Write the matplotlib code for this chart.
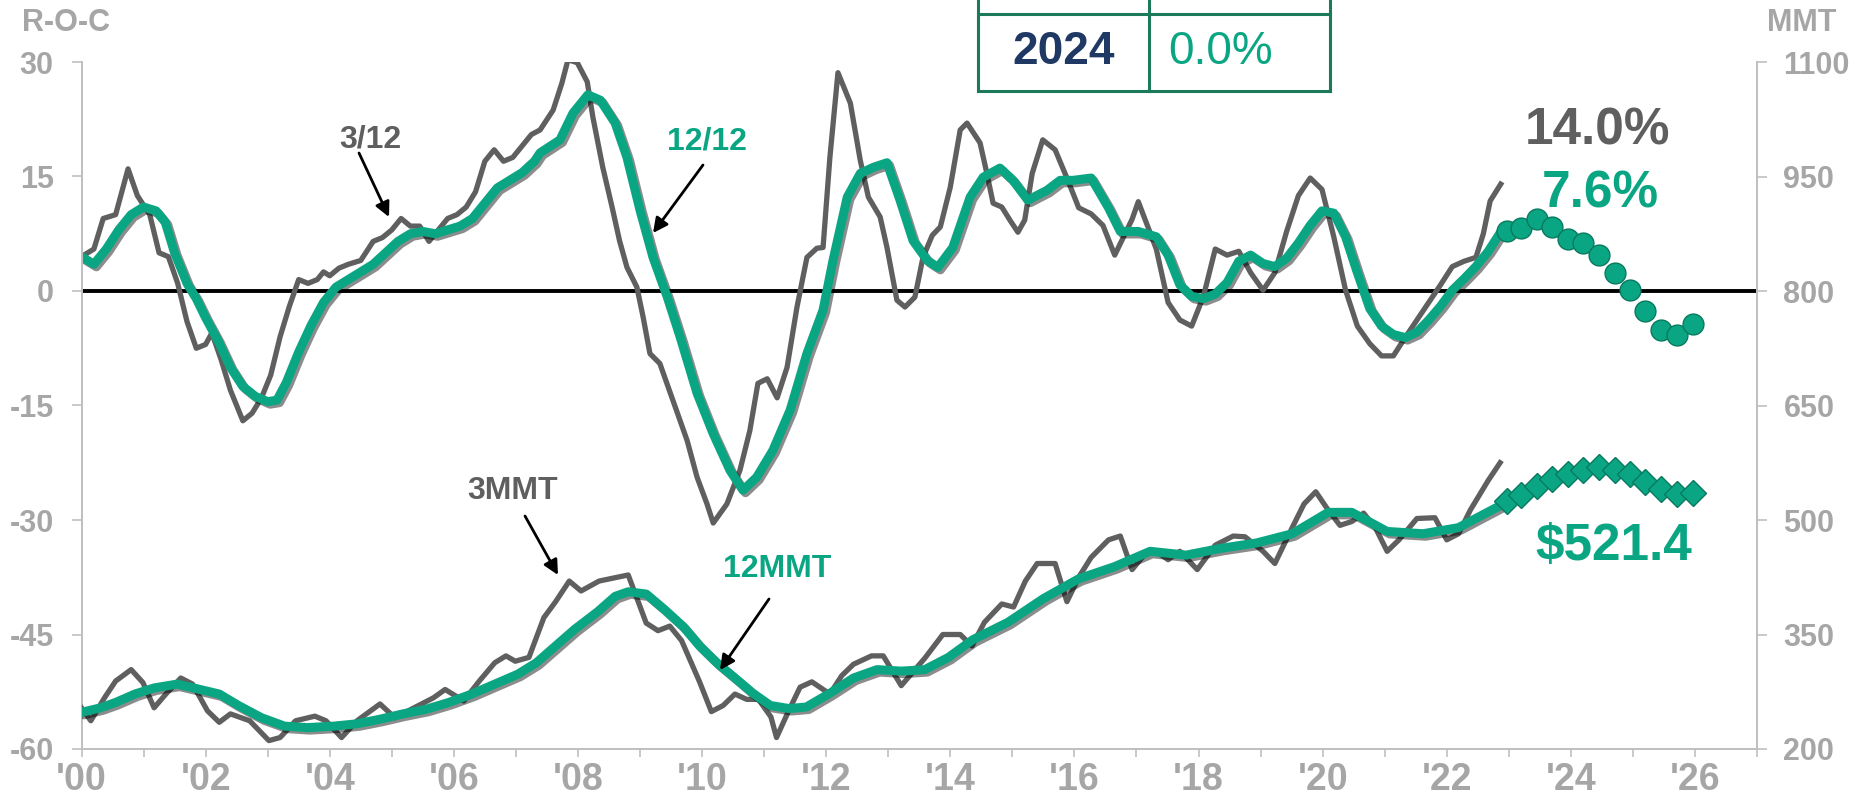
import matplotlib
matplotlib.use("Agg")
import matplotlib.pyplot as plt
import matplotlib.patheffects as pe
from matplotlib.lines import Line2D
from matplotlib.patches import Rectangle, FancyArrowPatch

plt.rcParams['font.family'] = ['Liberation Sans', 'DejaVu Sans']
plt.rcParams['axes.unicode_minus'] = False

# ---- data (years since 2000) ----
roc3_t = [0.0, 0.2, 0.35, 0.55, 0.75, 0.9, 1.1, 1.25, 1.4, 1.55, 1.7, 1.85, 2.0, 2.1, 2.25, 2.4, 2.6,
          2.75, 2.9, 3.05, 3.2, 3.35, 3.5, 3.65, 3.8, 3.9, 4.0, 4.15, 4.3, 4.5, 4.7, 4.85, 5.0, 5.15,
          5.3, 5.45, 5.6, 5.75, 5.9, 6.05, 6.2, 6.35, 6.5, 6.65, 6.8, 6.95, 7.1, 7.25,
          7.39, 7.6, 7.74, 7.84, 7.99, 8.15, 8.24, 8.4, 8.55, 8.67, 8.79, 8.95, 9.05, 9.16, 9.32,
          9.53, 9.76, 9.92, 10.08, 10.18, 10.4, 10.61, 10.77, 10.9, 11.05, 11.21, 11.37, 11.53,
          11.69, 11.85, 11.95, 12.06, 12.19, 12.39, 12.55, 12.68, 12.87, 12.98, 13.14, 13.27,
          13.43, 13.56, 13.71, 13.84, 14.0, 14.16, 14.27, 14.48, 14.59, 14.69, 14.83, 14.96,
          15.09, 15.2, 15.32, 15.49, 15.69, 15.88, 16.07, 16.27, 16.46, 16.65, 16.93, 17.03,
          17.32, 17.51, 17.7, 17.89, 18.08, 18.27, 18.46, 18.65, 18.84, 19.04, 19.23, 19.42,
          19.61, 19.8, 19.99, 20.18, 20.37, 20.56, 20.76, 20.95, 21.14, 21.33, 21.52, 21.71,
          21.9, 22.09, 22.28, 22.47, 22.59, 22.7, 22.87]
roc3_v = [4.5, 5.5, 9.5, 10, 16, 12.5, 10, 5, 4.5, 1, -4, -7.5, -7, -5.5, -9, -13, -17,
          -16, -14, -11, -6, -2, 1.5, 1, 1.5, 2.5, 2, 3, 3.5, 4, 6.5, 7, 8, 9.5,
          8.5, 8.5, 6.5, 8, 9.5, 10, 11, 13, 17, 18.5, 17, 17.5, 19, 20.5,
          21.1, 23.7, 27.2, 30.3, 29.9, 27.4, 22.8, 16.2, 11.0, 6.6, 3.1, 0.5, -3.4, -8.2, -9.5,
          -14.3, -19.6, -24.4, -27.9, -30.4, -27.9, -23.5, -18.3, -12.1, -11.5, -14.0, -10.0, -2.1,
          4.4, 5.6, 5.7, 17.5, 28.6, 24.6, 17.1, 12.3, 9.7, 5.7, -1.2, -2.1,
          -0.8, 4.4, 7.3, 8.4, 13.6, 21.1, 22.0, 19.4, 15.4, 11.5, 11.0, 9.3,
          7.7, 9.3, 15.4, 19.8, 18.5, 14.8, 10.9, 10.1, 8.6, 4.7, 9.4, 11.7,
          5.5, -1.5, -3.8, -4.6, -0.7, 5.5, 4.7, 5.2, 2.4, 0.1, 2.4, 7.8,
          12.5, 14.8, 13.3, 7.1, 0.1, -4.6, -6.9, -8.5, -8.5, -6.1, -3.8, -1.5,
          0.8, 3.2, 3.9, 4.4, 7.5, 11.8, 14.0]

roc12_t = [0.0, 0.2, 0.4, 0.6, 0.8, 1.0, 1.2, 1.35, 1.5, 1.7, 1.85, 2.0, 2.2, 2.4, 2.6, 2.8, 3.0,
           3.15, 3.3, 3.5, 3.7, 3.9, 4.1, 4.3, 4.5, 4.7, 4.9, 5.1, 5.3, 5.5, 5.7, 5.9, 6.1, 6.3,
           6.5, 6.7, 6.9, 7.1, 7.3,
           7.39, 7.71, 7.92, 8.16, 8.36, 8.6, 8.79, 9.0, 9.21, 9.44, 9.65, 9.92, 10.18, 10.45,
           10.66, 10.88, 11.14, 11.42, 11.69, 11.95, 12.11, 12.34, 12.55, 12.76, 12.98, 13.19,
           13.4, 13.63, 13.8, 14.04, 14.32, 14.53, 14.8, 15.01, 15.25, 15.56, 15.77,
           15.98, 16.27, 16.55, 16.74, 17.03, 17.32, 17.51, 17.7, 17.89, 18.08, 18.27, 18.46,
           18.65, 18.84, 19.04, 19.23, 19.42, 19.61, 19.8, 19.99, 20.18, 20.37, 20.56, 20.76,
           20.95, 21.14, 21.33, 21.52, 21.71, 21.9, 22.09, 22.28, 22.47, 22.67, 22.86]
roc12_v = [4.5, 3.5, 5.5, 8, 10, 11, 10.5, 9, 5, 1, -1, -3.5, -6.5, -10, -12.5, -13.8, -14.5,
           -14.3, -12, -8, -4.5, -1.5, 0.5, 1.5, 2.5, 3.5, 5, 6.5, 7.5, 7.8, 7.5, 8, 8.5, 9.5,
           11.5, 13.5, 14.5, 15.5, 17,
           18.1, 19.8, 23.3, 25.7, 25.0, 22.0, 17.5, 10.6, 4.4, -0.8, -6.1, -13.4, -18.7, -23.5,
           -26.1, -24.4, -20.9, -15.6, -8.2, -2.5, 4.0, 12.3, 15.4, 16.2, 16.8, 11.9,
           6.6, 4.0, 3.1, 5.7, 12.3, 14.9, 16.1, 14.5, 11.9, 13.2, 14.5,
           14.5, 14.8, 10.9, 7.8, 7.8, 7.1, 4.7, 0.8, -0.7, -1.0, -0.4, 1.1,
           3.9, 4.7, 3.6, 3.2, 4.3, 6.3, 8.6, 10.5, 10.2, 7.1, 2.4, -2.3,
           -4.6, -5.7, -6.1, -5.4, -3.8, -2.0, 0.1, 1.6, 3.2, 5.2, 7.6]

mmt3_t = [0.0, 0.15, 0.37, 0.55, 0.8, 0.99, 1.17, 1.36, 1.6, 1.79, 2.03, 2.22, 2.4, 2.71, 3.02,
          3.2, 3.45, 3.76, 3.94, 4.19, 4.44, 4.81, 5.05, 5.36, 5.67, 5.86, 6.16, 6.41, 6.66, 6.84,
          6.99, 7.21, 7.45, 7.64, 7.86, 8.05, 8.34, 8.81, 9.1, 9.29, 9.48, 9.67, 9.96, 10.15,
          10.34, 10.53, 10.72, 10.91, 11.11, 11.2, 11.39, 11.58, 11.77, 12.06, 12.25, 12.44,
          12.73, 12.92, 13.21, 13.59, 13.88, 14.16, 14.35, 14.55, 14.83, 15.02, 15.21, 15.4,
          15.69, 15.88, 16.07, 16.27, 16.55, 16.74, 16.93, 17.12, 17.32, 17.51, 17.7, 17.98,
          18.27, 18.56, 18.75, 19.04, 19.23, 19.51, 19.7, 19.89, 20.09, 20.28, 20.47, 20.66,
          20.85, 21.04, 21.23, 21.52, 21.81, 22.0, 22.19, 22.38, 22.67, 22.86]
mmt3_v = [254, 237, 267, 289, 304, 287, 254, 272, 293, 285, 250, 235, 246, 237, 211,
          215, 237, 243, 237, 215, 237, 259, 241, 254, 267, 278, 263, 289, 313, 322,
          315, 320, 372, 393, 420, 407, 420, 428, 365, 355, 361, 342, 288, 249,
          257, 272, 265, 265, 242, 215, 249, 281, 288, 272, 296, 311,
          322, 322, 283, 319, 350, 350, 335, 366, 390, 386, 420, 443,
          443, 393, 425, 451, 474, 479, 435, 454, 459, 448, 459, 435,
          467, 479, 478, 459, 443, 490, 521, 537, 513, 493, 498, 509,
          490, 459, 474, 502, 503, 474, 482, 513, 552, 575]

mmt12_t = [0.0, 0.31, 0.55, 0.86, 1.17, 1.54, 1.91, 2.22, 2.53, 2.9, 3.27, 3.64, 4.07, 4.44,
           4.81, 5.18, 5.55, 5.92, 6.29, 6.66, 7.03, 7.33, 7.64, 7.95, 8.32, 8.6, 8.81, 9.1,
           9.39, 9.7, 9.96, 10.25, 10.53, 10.82, 11.1, 11.4, 11.68, 12.06, 12.44, 12.82, 13.21,
           13.59, 13.97, 14.36, 14.93, 15.5, 16.07, 16.65, 17.22, 17.8, 18.37, 18.94, 19.51,
           20.09, 20.47, 21.04, 21.62, 22.19, 22.92]
mmt12_v = [248, 254, 261, 272, 280, 285, 278, 272, 257, 241, 230, 228, 230, 233,
           239, 246, 252, 261, 272, 285, 298, 313, 335, 357, 380, 400, 406, 403,
           383, 360, 335, 312, 293, 273, 257, 253, 255, 273, 293, 304, 302,
           304, 320, 343, 366, 397, 423, 439, 459, 454, 463, 470, 482,
           510, 510, 485, 482, 490, 521.4]

fc_t = [22.97, 23.2, 23.46, 23.7, 23.95, 24.2, 24.45, 24.71, 24.96, 25.2, 25.45, 25.71, 25.97]
fc_roc12 = [7.8, 8.3, 9.4, 8.4, 6.8, 6.3, 4.7, 2.4, 0.1, -2.6, -5.1, -5.7, -4.3]
fc_mmt12 = [525, 533, 544, 554, 560, 566, 570, 566, 560, 550, 541, 534, 536]

year_ticks = list(range(0, 28))
year_labels = ["'%02d" % y if y % 2 == 0 else "" for y in year_ticks]

GREEN = '#0aa683'
GREEN_EDGE = '#08795f'
GRAY = '#5f5f5f'
AXC = '#a6a6a6'
SPINE = '#c0c0c0'

W, H = 1859, 800
fig = plt.figure(figsize=(W / 100, H / 100), dpi=100)
ax = fig.add_axes([81.5 / W, 1 - 749 / H, (1757 - 81.5) / W, (749 - 62) / H])
ax2 = ax.twinx()

shadow = [pe.SimpleLineShadow(offset=(1.8, -1.8), shadow_color='black', alpha=0.45), pe.Normal()]

ax.axhline(0, color='black', lw=2.8, zorder=2)
ax.plot(roc3_t, roc3_v, color=GRAY, lw=3.8, solid_joinstyle='round', zorder=3)
ax.plot(roc12_t, roc12_v, color=GREEN, lw=6.5, solid_joinstyle='round',
        solid_capstyle='round', path_effects=shadow, zorder=4)
ax.plot(fc_t, fc_roc12, 'o', ms=15, color=GREEN, mec=GREEN_EDGE, mew=1.0, zorder=5)

ax2.plot(mmt3_t, mmt3_v, color=GRAY, lw=3.8, solid_joinstyle='round', zorder=3)
ax2.plot(mmt12_t, mmt12_v, color=GREEN, lw=6.5, solid_joinstyle='round',
         solid_capstyle='round', path_effects=shadow, zorder=4)
ax2.plot(fc_t, fc_mmt12, 'D', ms=13, color=GREEN, mec=GREEN_EDGE, mew=1.0, zorder=5)

ax.set_xlim(0, 27)
ax.set_ylim(-60, 30)
ax2.set_ylim(200, 1100)
ax.set_yticks(range(-60, 31, 15))
ax2.set_yticks(range(200, 1101, 150))
ax.set_xticks(year_ticks)
ax.set_xticklabels(year_labels)

for a in (ax, ax2):
    a.spines['top'].set_visible(False)
    for s in ('left', 'right', 'bottom'):
        a.spines[s].set_color(SPINE)
        a.spines[s].set_linewidth(1.4)

ax.tick_params(axis='y', direction='out', length=7, width=1.2, color=SPINE, pad=13,
               labelsize=22, labelcolor=AXC)
ax2.tick_params(axis='y', direction='out', length=7, width=1.2, color=SPINE, pad=12,
                labelsize=22, labelcolor=AXC)
ax.tick_params(axis='x', direction='out', length=6, width=1.2, color=SPINE, pad=3,
               labelsize=27, labelcolor=AXC)
for lab in ax.get_yticklabels() + ax2.get_yticklabels():
    lab.set_fontweight('bold')
for lab in ax.get_xticklabels():
    lab.set_fontweight('bold')
    lab.set_family(['Liberation Sans Narrow', 'Liberation Sans'])


def fp(x, y):
    # reference pixel (top-left origin) -> figure fraction
    return x / W, 1 - y / H


fig.text(*fp(22, 23), 'R-O-C', fontsize=22, fontweight='bold', color=AXC, va='center')
fig.text(*fp(1767, 23), 'MMT', fontsize=22, fontweight='bold', color=AXC, va='center')

# series labels
fig.text(*fp(370, 140), '3/12', fontsize=23, fontweight='bold', color=GRAY, ha='center', va='center')
fig.text(*fp(707, 141), '12/12', fontsize=23, fontweight='bold', color=GREEN, ha='center', va='center')
fig.text(*fp(513, 491), '3MMT', fontsize=23, fontweight='bold', color=GRAY, ha='center', va='center')
fig.text(*fp(777, 569), '12MMT', fontsize=23, fontweight='bold', color=GREEN, ha='center', va='center')

arrow_kw = dict(arrowstyle='-|>', color='black', lw=2.0, mutation_scale=22, shrinkA=0, shrinkB=0)
for tail, head in [((359, 153), (389, 217)), ((703, 165), (653, 233)),
                   ((525, 516), (558, 575)), ((769, 599), (720, 670))]:
    fig.add_artist(FancyArrowPatch(fp(*tail), fp(*head), transform=fig.transFigure, **arrow_kw))

fig.text(*fp(1597, 131), '14.0%', fontsize=37, fontweight='bold', color=GRAY, ha='center', va='center')
fig.text(*fp(1600, 194), '7.6%', fontsize=37, fontweight='bold', color=GREEN, ha='center', va='center')
fig.text(*fp(1614, 546), '$521.4', fontsize=37, fontweight='bold', color=GREEN, ha='center', va='center')

# forecast table
TBL = '#1b7a5a'
x0, x1, x2 = 978, 1149, 1330
fig.add_artist(Rectangle(fp(x0, 91), (x2 - x0) / W, 77 / H, transform=fig.transFigure,
                         facecolor='white', edgecolor=TBL, lw=2.2, zorder=6))
for xv in (x0, x1, x2):
    fig.add_artist(Line2D([xv / W, xv / W], [1 - 91 / H, 1.0], transform=fig.transFigure,
                          color=TBL, lw=2.2, zorder=7))
fig.text(*fp((x0 + x1) / 2, 52), '2024', fontsize=33, fontweight='bold', color='#1f3864',
         ha='center', va='center', zorder=8)
fig.text(*fp(1168, 52), '0.0%', fontsize=33, color=GREEN, ha='left', va='center', zorder=8)

fig.savefig('out.png', dpi=100)
